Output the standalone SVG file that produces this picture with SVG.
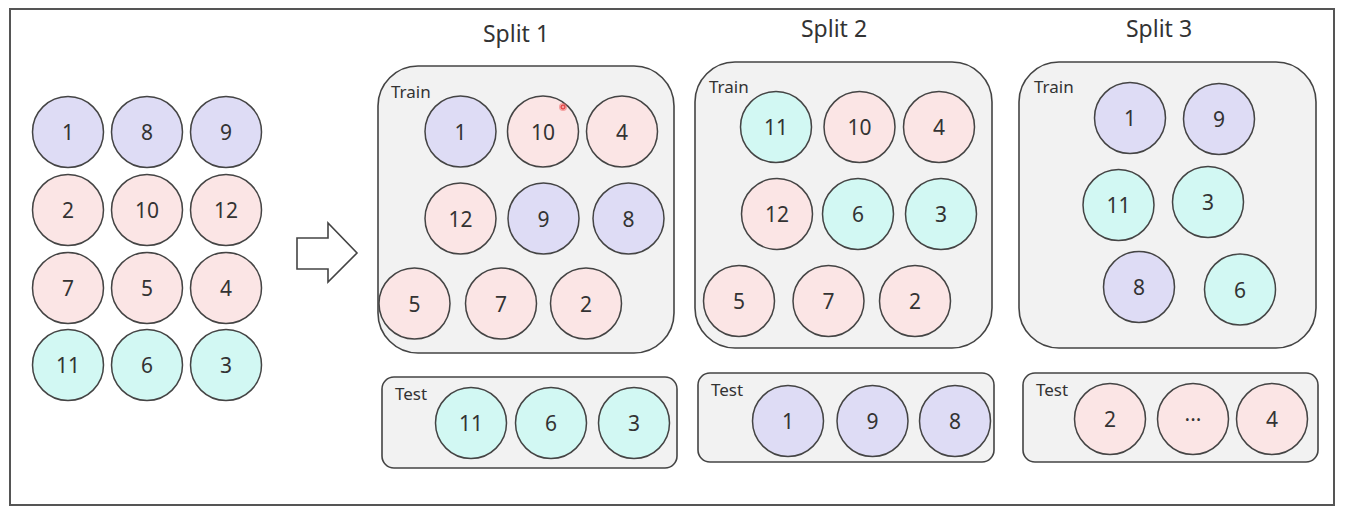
<svg xmlns="http://www.w3.org/2000/svg" width="1346" height="516" viewBox="0 0 1346 516">
<style>
.frame{fill:#fff;stroke:#555;stroke-width:2}
.box{fill:#f2f2f2;stroke:#444;stroke-width:1.6}
.c{stroke:#444;stroke-width:1.5}
.p{fill:#dedcf5}
.r{fill:#fbe5e5}
.g{fill:#d2f8f3}
.n{font-family:"Noto Sans","DejaVu Sans",sans-serif;font-size:21px;fill:#333;text-anchor:middle;dominant-baseline:central}
.lbl{font-family:"Noto Sans","DejaVu Sans",sans-serif;font-size:17px;fill:#333}
.title{font-family:"Noto Sans","DejaVu Sans",sans-serif;font-size:23px;fill:#333;text-anchor:middle}
</style>
<rect class="frame" x="10" y="9" width="1324" height="496"/>

<g id="source">
<g id="s-1"><circle class="c p" cx="68" cy="132" r="35.5"/><text class="n" x="68" y="132">1</text></g>
<g id="s-8"><circle class="c p" cx="147" cy="132" r="35.5"/><text class="n" x="147" y="132">8</text></g>
<g id="s-9"><circle class="c p" cx="226" cy="132" r="35.5"/><text class="n" x="226" y="132">9</text></g>
<g id="s-2"><circle class="c r" cx="68" cy="210" r="35.5"/><text class="n" x="68" y="210">2</text></g>
<g id="s-10"><circle class="c r" cx="147" cy="210" r="35.5"/><text class="n" x="147" y="210">10</text></g>
<g id="s-12"><circle class="c r" cx="226" cy="210" r="35.5"/><text class="n" x="226" y="210">12</text></g>
<g id="s-7"><circle class="c r" cx="68" cy="288" r="35.5"/><text class="n" x="68" y="288">7</text></g>
<g id="s-5"><circle class="c r" cx="147" cy="288" r="35.5"/><text class="n" x="147" y="288">5</text></g>
<g id="s-4"><circle class="c r" cx="226" cy="288" r="35.5"/><text class="n" x="226" y="288">4</text></g>
<g id="s-11"><circle class="c g" cx="68" cy="365" r="35.5"/><text class="n" x="68" y="365">11</text></g>
<g id="s-6"><circle class="c g" cx="147" cy="365" r="35.5"/><text class="n" x="147" y="365">6</text></g>
<g id="s-3"><circle class="c g" cx="226" cy="365" r="35.5"/><text class="n" x="226" y="365">3</text></g>
</g>

<g id="connectors">
<polygon points="297,238 328,238 328,223 357,253 328,282 328,269 297,269" fill="#fff" stroke="#444" stroke-width="1.6"/>
</g>

<g id="split1">
<text class="title" x="516" y="42">Split 1</text>
<g id="split1-train">
<rect class="box" x="378" y="66" width="296" height="287" rx="40"/>
<text class="lbl" x="391" y="98">Train</text>
<g><circle class="c p" cx="460.5" cy="131.5" r="35.5"/><text class="n" x="460.5" y="131.5">1</text></g>
<g><circle class="c r" cx="543" cy="131.5" r="35.5"/><text class="n" x="543" y="131.5">10</text></g>
<g><circle class="c r" cx="622" cy="131.5" r="35.5"/><text class="n" x="622" y="131.5">4</text></g>
<g><circle class="c r" cx="460.5" cy="218.5" r="35.5"/><text class="n" x="460.5" y="218.5">12</text></g>
<g><circle class="c p" cx="543.5" cy="218.5" r="35.5"/><text class="n" x="543.5" y="218.5">9</text></g>
<g><circle class="c p" cx="628.5" cy="218.5" r="35.5"/><text class="n" x="628.5" y="218.5">8</text></g>
<g><circle class="c r" cx="414.5" cy="303.5" r="35.5"/><text class="n" x="414.5" y="303.5">5</text></g>
<g><circle class="c r" cx="501" cy="303.5" r="35.5"/><text class="n" x="501" y="303.5">7</text></g>
<g><circle class="c r" cx="586" cy="303.5" r="35.5"/><text class="n" x="586" y="303.5">2</text></g>
<circle cx="563" cy="107" r="4" fill="#f06060" fill-opacity="0.5"/>
<circle cx="563" cy="107" r="2" fill="none" stroke="#e03030" stroke-width="1"/>
</g>
<g id="split1-test">
<rect class="box" x="382" y="377" width="295" height="91" rx="12"/>
<text class="lbl" x="395" y="400">Test</text>
<g><circle class="c g" cx="471" cy="423" r="35.5"/><text class="n" x="471" y="423">11</text></g>
<g><circle class="c g" cx="551" cy="423" r="35.5"/><text class="n" x="551" y="423">6</text></g>
<g><circle class="c g" cx="634" cy="423" r="35.5"/><text class="n" x="634" y="423">3</text></g>
</g>
</g>

<g id="split2">
<text class="title" x="834" y="37">Split 2</text>
<g id="split2-train">
<rect class="box" x="695" y="62" width="297" height="286" rx="40"/>
<text class="lbl" x="709" y="93">Train</text>
<g><circle class="c g" cx="776" cy="127" r="35.5"/><text class="n" x="776" y="127">11</text></g>
<g><circle class="c r" cx="859.5" cy="127" r="35.5"/><text class="n" x="859.5" y="127">10</text></g>
<g><circle class="c r" cx="939" cy="127" r="35.5"/><text class="n" x="939" y="127">4</text></g>
<g><circle class="c r" cx="777" cy="214" r="35.5"/><text class="n" x="777" y="214">12</text></g>
<g><circle class="c g" cx="858" cy="214" r="35.5"/><text class="n" x="858" y="214">6</text></g>
<g><circle class="c g" cx="941" cy="214" r="35.5"/><text class="n" x="941" y="214">3</text></g>
<g><circle class="c r" cx="739" cy="301" r="35.5"/><text class="n" x="739" y="301">5</text></g>
<g><circle class="c r" cx="828.5" cy="301" r="35.5"/><text class="n" x="828.5" y="301">7</text></g>
<g><circle class="c r" cx="915" cy="301" r="35.5"/><text class="n" x="915" y="301">2</text></g>
</g>
<g id="split2-test">
<rect class="box" x="698" y="373" width="296" height="89" rx="12"/>
<text class="lbl" x="711" y="396">Test</text>
<g><circle class="c p" cx="788" cy="421" r="35.5"/><text class="n" x="788" y="421">1</text></g>
<g><circle class="c p" cx="872.5" cy="421" r="35.5"/><text class="n" x="872.5" y="421">9</text></g>
<g><circle class="c p" cx="955" cy="421" r="35.5"/><text class="n" x="955" y="421">8</text></g>
</g>
</g>

<g id="split3">
<text class="title" x="1159" y="37">Split 3</text>
<g id="split3-train">
<rect class="box" x="1019" y="62" width="297" height="286" rx="40"/>
<text class="lbl" x="1034" y="93">Train</text>
<g><circle class="c p" cx="1130" cy="118" r="35.5"/><text class="n" x="1130" y="118">1</text></g>
<g><circle class="c p" cx="1219" cy="119" r="35.5"/><text class="n" x="1219" y="119">9</text></g>
<g><circle class="c g" cx="1118.5" cy="205" r="35.5"/><text class="n" x="1118.5" y="205">11</text></g>
<g><circle class="c g" cx="1208" cy="202" r="35.5"/><text class="n" x="1208" y="202">3</text></g>
<g><circle class="c p" cx="1139" cy="287" r="35.5"/><text class="n" x="1139" y="287">8</text></g>
<g><circle class="c g" cx="1240" cy="289.5" r="35.5"/><text class="n" x="1240" y="289.5">6</text></g>
</g>
<g id="split3-test">
<rect class="box" x="1023" y="373" width="295" height="89" rx="12"/>
<text class="lbl" x="1036" y="396">Test</text>
<g><circle class="c r" cx="1110" cy="419" r="35.5"/><text class="n" x="1110" y="419">2</text></g>
<g><circle class="c r" cx="1193" cy="419" r="35.5"/><text class="n" x="1193" y="419">···</text></g>
<g><circle class="c r" cx="1272" cy="419" r="35.5"/><text class="n" x="1272" y="419">4</text></g>
</g>
</g>
</svg>
